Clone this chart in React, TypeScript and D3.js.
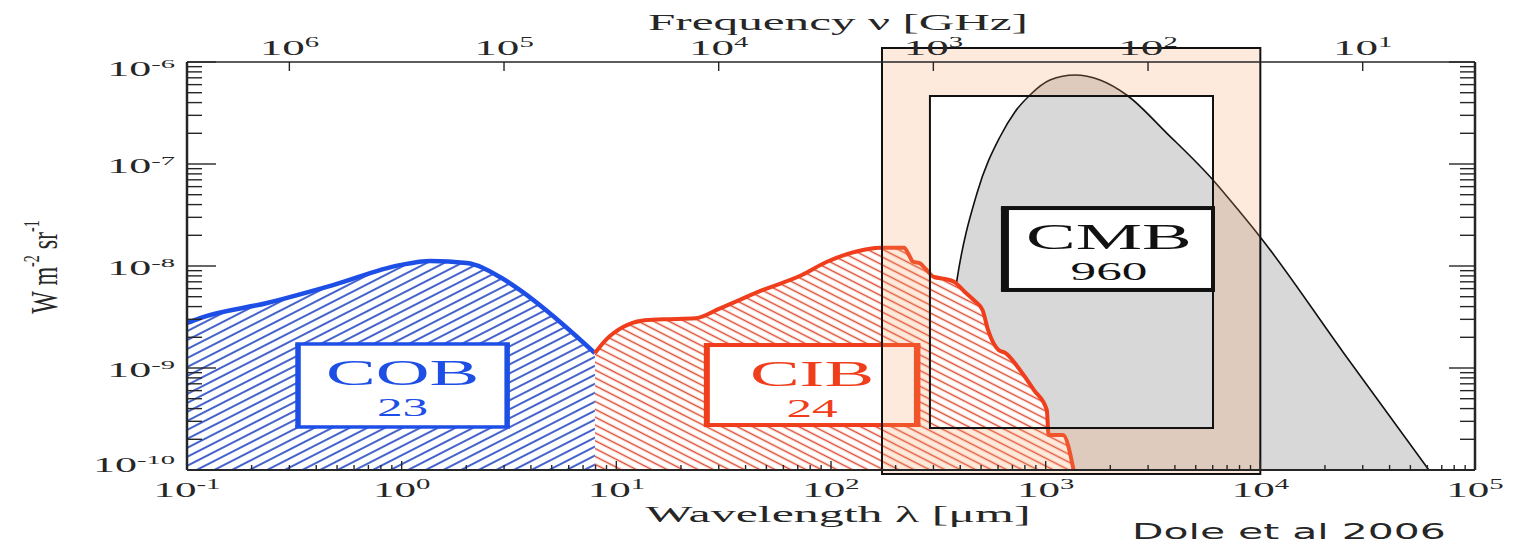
import React from 'react';
import * as d3 from 'd3';

const WIDTH = 1516;
const HEIGHT = 544;
const plot = { left: 187, right: 1475, top: 62, bottom: 470 };
const SERIF = "'Liberation Serif', 'Times New Roman', serif";
const SANS = "'DejaVu Sans', sans-serif";
const STRETCH = 2.05; // the source figure is squashed wide, so the glyphs are too
const INK = '#262626';
const BLUE = '#1d4fe6';
const RED = '#f03e1c';

// wavelength in micron, nu I_nu in W m^-2 sr^-1
const cobWavelength = [0.1, 0.115, 0.236, 0.479, 0.98, 1.36, 2.01, 2.87, 3.56, 5.47, 7.95];
const cobFlux = [2.76e-9, 3.09e-9, 4.34e-9, 6.5e-9, 1.02e-8, 1.12e-8, 1.07e-8, 7.8e-9, 5.8e-9, 2.83e-9, 1.4e-9];

const cibWavelength = [7.95, 8.92, 10.8, 13.1, 16.5, 23.3, 30.4, 48.2, 73.2, 95.8, 130, 170, 219, 231, 241, 260, 274, 302, 340, 374, 419, 462, 508, 539, 603, 651, 759, 882, 1012, 1032, 1204, 1349];
const cibFlux = [1.4e-9, 1.88e-9, 2.54e-9, 2.91e-9, 3.0e-9, 3.07e-9, 3.85e-9, 5.82e-9, 8.16e-9, 1.1e-8, 1.38e-8, 1.51e-8, 1.51e-8, 1.28e-8, 1.1e-8, 1.06e-8, 9.5e-9, 7.8e-9, 7.46e-9, 7.02e-9, 5.6e-9, 4.64e-9, 3.7e-9, 2.36e-9, 1.5e-9, 1.4e-9, 9.56e-10, 6.08e-10, 3.88e-10, 2.2e-10, 2.2e-10, 1e-10];

const cmbWavelength = [322, 336, 358, 386, 479, 613, 719, 845, 1047, 1370, 1791, 2385, 3663, 6018, 7223, 9963, 24300, 61000];
const cmbFlux = [1e-10, 4.86e-10, 2.36e-9, 7.29e-9, 5.2e-8, 1.85e-7, 3.24e-7, 4.75e-7, 6.66e-7, 7.46e-7, 6.66e-7, 4.75e-7, 2.01e-7, 6.97e-8, 4.44e-8, 1.94e-8, 1.43e-9, 1e-10];

// labelled boxes: name, integrated intensity [nW m^-2 sr^-1]
const labelNames = ['COB', 'CIB', 'CMB'];
const labelValues = ['23', '24', '960'];
const labelColors = [BLUE, RED, '#111'];
const labelBoxWavelength = [[0.329, 3.1], [26.4, 252], [646, 6018]];
const labelBoxFlux = [[1.72e-9, 2.64e-10], [1.68e-9, 2.76e-10], [3.7e-8, 5.82e-9]];

// the highlighted submm/mm window (outer and inner edges)
const windowWavelength = [[172.8, 1e4], [289, 6018]];
const windowFlux = [[1.372e-6, 9.14e-11], [4.64e-7, 2.58e-10]];

const freqTicks = [1e6, 1e5, 1e4, 1e3, 1e2, 1e1]; // GHz
const C_UM_GHZ = 299792.458;

type Pt = [number, number];
const zip = (a: number[], b: number[]): Pt[] => a.map((v, i) => [v, b[i]]);
const isDecade = (v: number) => Math.abs(Math.log10(v) - Math.round(Math.log10(v))) < 1e-6;

function Stretch({ x, y, sx = STRETCH, children }: any) {
    return <g transform={`translate(${x},${y}) scale(${sx},1)`}>{children}</g>;
}

function Pow10({ x, y, exp, anchor = 'middle', size = 21, sup = 14, rise = 8, sx = STRETCH }: any) {
    return (
        <Stretch x={x} y={y} sx={sx}>
            <text textAnchor={anchor} fontFamily={SERIF} fontSize={size} fill={INK}>
                10<tspan fontSize={sup} dy={-rise}>{exp}</tspan>
            </text>
        </Stretch>
    );
}

function LabelBox({ x0, x1, y0, y1, color, name, value, hw, lw, rw }: any) {
    const cx = (x0 + x1) / 2;
    return (
        <g>
            <rect x={x0} y={y0} width={x1 - x0} height={y1 - y0} fill="#fff" />
            <rect x={x0 - lw / 2} y={y0 - hw / 2} width={x1 - x0 + (lw + rw) / 2} height={hw} fill={color} />
            <rect x={x0 - lw / 2} y={y1 - hw / 2} width={x1 - x0 + (lw + rw) / 2} height={hw} fill={color} />
            <rect x={x0 - lw / 2} y={y0} width={lw} height={y1 - y0} fill={color} />
            <rect x={x1 - rw / 2} y={y0} width={rw} height={y1 - y0} fill={color} />
            <Stretch x={cx} y={y0 + 41} sx={2.13}>
                <text textAnchor="middle" fontFamily={SERIF} fontSize={35} fill={color}>{name}</text>
            </Stretch>
            <Stretch x={cx} y={y0 + 72} sx={2.05}>
                <text textAnchor="middle" fontFamily={SERIF} fontSize={25} fill={color}>{value}</text>
            </Stretch>
        </g>
    );
}

export default function App() {
    const x = d3.scaleLog().domain([1e-1, 1e5]).range([plot.left, plot.right]);
    const y = d3.scaleLog().domain([1e-10, 1e-6]).range([plot.bottom, plot.top]);
    const nu = d3.scaleLog().domain([C_UM_GHZ / 1e-1, C_UM_GHZ / 1e5]).range([plot.left, plot.right]);

    const area = d3.area<Pt>().x(d => x(d[0])).y0(plot.bottom).y1(d => y(d[1])).curve(d3.curveMonotoneX);
    const line = d3.line<Pt>().x(d => x(d[0])).y(d => y(d[1])).curve(d3.curveMonotoneX);

    const cob = zip(cobWavelength, cobFlux);
    const cib = zip(cibWavelength, cibFlux);
    const cmb = zip(cmbWavelength, cmbFlux);

    const xTicks = x.ticks();
    const yTicks = y.ticks();

    const ox0 = x(windowWavelength[0][0]), ox1 = x(windowWavelength[0][1]);
    const oy0 = y(windowFlux[0][0]), oy1 = y(windowFlux[0][1]);
    const ix0 = x(windowWavelength[1][0]), ix1 = x(windowWavelength[1][1]);
    const iy0 = y(windowFlux[1][0]), iy1 = y(windowFlux[1][1]);
    const framePath = `M${ox0},${oy0}H${ox1}V${oy1}H${ox0}Z M${ix0},${iy0}H${ix1}V${iy1}H${ix0}Z`;

    const boxes = labelNames.map((name, i) => ({
        name,
        value: labelValues[i],
        color: labelColors[i],
        x0: x(labelBoxWavelength[i][0]),
        x1: x(labelBoxWavelength[i][1]),
        y0: y(labelBoxFlux[i][0]),
        y1: y(labelBoxFlux[i][1]),
    }));
    const borderWidths = [
        { hw: 3.5, lw: 5.5, rw: 5.5 },
        { hw: 4, lw: 6, rw: 6.5 },
        { hw: 4, lw: 8, rw: 4 },
    ];

    return (
        <svg width={WIDTH} height={HEIGHT} style={{ position: 'absolute', left: 0, top: 0 }}>
            <defs>
                <pattern id="hatchBlue" patternUnits="userSpaceOnUse" width="24" height="8" patternTransform="rotate(-27)">
                    <line x1="0" y1="4" x2="24" y2="4" stroke="#2346c4" strokeWidth="1.7" />
                </pattern>
                <pattern id="hatchRed" patternUnits="userSpaceOnUse" width="24" height="7" patternTransform="rotate(27)">
                    <line x1="0" y1="3.5" x2="24" y2="3.5" stroke="#de4a30" strokeWidth="1.5" />
                </pattern>
            </defs>
            <rect width={WIDTH} height={HEIGHT} fill="#fff" />

            {/* COB */}
            <path d={area(cob) || ''} fill="url(#hatchBlue)" />
            <path d={line(cob) || ''} fill="none" stroke={BLUE} strokeWidth={4.5} />

            {/* CMB */}
            <path d={area(cmb) || ''} fill="#d8d8d8" />
            <path d={line(cmb) || ''} fill="none" stroke="#111" strokeWidth={1.6} />

            {/* CIB sits in front of the CMB */}
            <path d={area(cib) || ''} fill="#fff" />
            <path d={area(cib) || ''} fill="url(#hatchRed)" />
            <path d={line(cib) || ''} fill="none" stroke={RED} strokeWidth={4} strokeLinejoin="round" />

            {boxes.slice(0, 2).map((b, i) => (
                <LabelBox key={b.name} {...b} {...borderWidths[i]} />
            ))}

            {/* submm window */}
            <path d={framePath} fill="rgba(245,160,100,0.22)" fillRule="evenodd" />
            <rect x={ox0} y={oy0} width={ox1 - ox0} height={oy1 - oy0} fill="none" stroke="#111" strokeWidth={2} />
            <rect x={ix0} y={iy0} width={ix1 - ix0} height={iy1 - iy0} fill="none" stroke="#111" strokeWidth={2} />

            <LabelBox {...boxes[2]} {...borderWidths[2]} />

            {/* axes frame */}
            <line x1={plot.left} x2={plot.right} y1={plot.top} y2={plot.top} stroke={INK} strokeWidth={1.6} />
            <line x1={plot.left} x2={plot.right} y1={plot.bottom} y2={plot.bottom} stroke={INK} strokeWidth={2} />
            <line x1={plot.left} x2={plot.left} y1={plot.top} y2={plot.bottom} stroke={INK} strokeWidth={2.5} />
            <line x1={plot.right} x2={plot.right} y1={plot.top} y2={plot.bottom} stroke={INK} strokeWidth={2.5} />

            {xTicks.map((v, i) => (
                <line key={'xt' + i} x1={x(v)} x2={x(v)} y1={plot.bottom} y2={plot.bottom - (isDecade(v) ? 9 : 5)} stroke={INK} strokeWidth={1.4} />
            ))}
            {yTicks.map((v, i) => (
                <g key={'yt' + i}>
                    <line x1={plot.left} x2={plot.left + (isDecade(v) ? 29 : 15)} y1={y(v)} y2={y(v)} stroke={INK} strokeWidth={1.4} />
                    <line x1={plot.right} x2={plot.right - (isDecade(v) ? 26 : 15)} y1={y(v)} y2={y(v)} stroke={INK} strokeWidth={1.4} />
                </g>
            ))}
            {freqTicks.map(f => (
                <line key={'ft' + f} x1={nu(f)} x2={nu(f)} y1={plot.top} y2={plot.top + 9} stroke={INK} strokeWidth={1.4} />
            ))}

            {/* tick labels */}
            {xTicks.filter(isDecade).map(v => (
                <Pow10 key={'xl' + v} x={x(v)} y={497} exp={String(Math.round(Math.log10(v)))} />
            ))}
            {yTicks.filter(isDecade).map(v => (
                <Pow10
                    key={'yl' + v}
                    x={175}
                    y={Math.min(plot.bottom + 2, Math.max(plot.top + 14, y(v) + 9))}
                    exp={String(Math.round(Math.log10(v)))}
                    anchor="end"
                    size={20}
                    sup={13}
                    sx={2.2}
                />
            ))}
            {freqTicks.map(f => (
                <Pow10 key={'fl' + f} x={nu(f)} y={55} exp={String(Math.round(Math.log10(f)))} size={22} />
            ))}

            {/* titles */}
            <Stretch x={838} y={30} sx={2.05}>
                <text textAnchor="middle" fontFamily={SERIF} fontSize={24} fill={INK}>Frequency ν [GHz]</text>
            </Stretch>
            <Stretch x={838} y={522} sx={2.08}>
                <text textAnchor="middle" fontFamily={SERIF} fontSize={24} fill={INK}>Wavelength λ [μm]</text>
            </Stretch>
            <g transform="translate(57,267) scale(1.6,1) rotate(-90)">
                <text textAnchor="middle" fontFamily={SERIF} fontSize={24} fill={INK}>
                    W m<tspan fontSize={14} dy={-11}>-2</tspan>
                    <tspan dy={11}> sr</tspan>
                    <tspan fontSize={14} dy={-11}>-1</tspan>
                </text>
            </g>
            <Stretch x={1132} y={539} sx={1.86}>
                <text fontFamily={SANS} fontSize={22} fill={INK}>Dole et al 2006</text>
            </Stretch>
        </svg>
    );
}
